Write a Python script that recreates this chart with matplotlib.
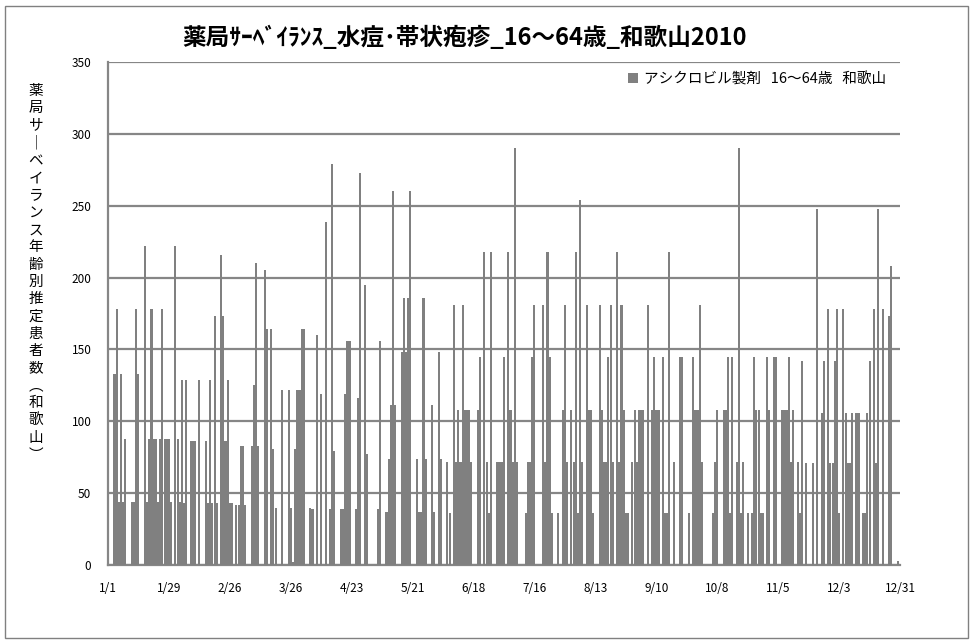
import matplotlib
matplotlib.use("Agg")
import matplotlib.pyplot as plt
import numpy as np
from matplotlib.patches import Rectangle

plt.rcParams['font.family'] = ['Noto Sans CJK JP', 'DejaVu Sans']

# daily estimated patients, 1/1 .. 12/31 (365 days)
jan_feb = [0, 0, 0, 133, 178, 44, 133, 44, 88, 0,
           0, 44, 44, 178, 133, 0, 0, 222, 44, 88,
           178, 88, 88, 44, 88, 178, 88, 88, 88, 44,
           0, 222, 88, 44, 129, 43, 129, 0, 86, 86,
           86, 0, 129, 0, 0, 86, 43, 129, 43, 173,
           43, 0, 216, 173, 86, 129, 43, 43, 0]
mar_apr = [42, 42, 83, 83, 42, 0, 0, 83, 125, 210,
           83, 0, 0, 205, 164, 0, 164, 81, 40, 0,
           0, 122, 0, 0, 122, 40, 2, 81, 122, 122,
           164, 164, 0, 0, 40, 39, 0, 160, 0, 119,
           0, 239, 0, 39, 279, 79, 0, 0, 39, 39,
           119, 156, 156, 0, 0, 39, 116, 273, 0, 195]
may_jun = [77, 0, 0, 0, 0, 39, 156, 0, 0, 37,
           74, 111, 260, 111, 0, 0, 148, 186, 148, 186,
           260, 0, 0, 74, 37, 37, 186, 74, 0, 0,
           111, 37, 0, 148, 74, 0, 0, 72, 36, 0,
           181, 72, 108, 72, 181, 108, 108, 108, 72, 0,
           0, 108, 145, 0, 218, 72, 36, 218, 0, 0, 72]
jul_aug = [72, 72, 145, 0, 218, 108, 72, 290, 72, 0,
           0, 0, 36, 72, 72, 145, 181, 0, 0, 0,
           181, 72, 218, 145, 36, 0, 0, 36, 0, 108,
           181, 72, 0, 108, 72, 218, 36, 254, 72, 0,
           181, 108, 108, 36, 0, 0, 181, 108, 72, 72,
           145, 181, 72, 0, 218, 72, 181, 108, 36, 36, 0, 72]
sep_oct = [108, 72, 108, 108, 108, 0, 181, 0, 108, 145,
           108, 108, 0, 145, 36, 36, 218, 0, 72, 0,
           0, 145, 145, 0, 0, 36, 0, 145, 108, 108,
           181, 72, 0, 0, 0, 0, 36, 72, 108, 0,
           0, 108, 108, 145, 36, 145, 0, 72, 290, 36,
           72, 0, 36, 0, 36, 145, 108, 108, 36, 36, 0]
nov_dec = [145, 108, 0, 145, 145, 0, 0, 108, 108, 108,
           145, 72, 108, 0, 72, 36, 142, 0, 71, 0,
           0, 71, 0, 248, 0, 106, 142, 0, 178, 71,
           71, 142, 178, 36, 0, 178, 106, 71, 71, 106,
           0, 106, 106, 0, 36, 36, 106, 142, 0, 178,
           71, 248, 0, 178, 0, 0, 173, 208, 0, 0, 3, 0]

values = jan_feb + mar_apr + may_jun + jul_aug + sep_oct + nov_dec
values = (values + [0] * 365)[:365]

tick_days = list(range(0, 365, 28))
tick_labels = ['1/1', '1/29', '2/26', '3/26', '4/23', '5/21', '6/18',
               '7/16', '8/13', '9/10', '10/8', '11/5', '12/3', '12/31']

title = '薬局ｻｰﾍﾞｲﾗﾝｽ_水痘･帯状疱疹_16～64歳_和歌山2010'
ylabel = '薬局サ｜ベイランス年齢別推定患者数︵和歌山︶'
legend_label = 'アシクロビル製剤   16～64歳   和歌山'

grid_col = '#868686'
bar_col = '#808080'

fig = plt.figure(figsize=(9.76, 6.43), dpi=100)
ax = fig.add_axes([108 / 976, 1 - 565 / 643, 792 / 976, 503 / 643])

days = np.arange(len(values))
ax.bar(days, values, width=0.95, color=bar_col, linewidth=0,
       label=legend_label, zorder=3)

ax.set_xlim(0, 364)
ax.set_ylim(0, 350)
ax.set_yticks(range(0, 351, 50))
ax.set_xticks(tick_days)
ax.set_xticklabels(tick_labels)
ax.tick_params(axis='both', labelsize=8.5, length=0, colors='black')
ax.tick_params(axis='x', pad=12)
ax.tick_params(axis='y', pad=12)

ax.grid(axis='y', color=grid_col, linewidth=1.6, zorder=0)
for s in ['top', 'right']:
    ax.spines[s].set_visible(False)
ax.spines['left'].set_color(grid_col)
ax.spines['left'].set_linewidth(1.6)
ax.spines['bottom'].set_color(grid_col)
ax.spines['bottom'].set_linewidth(1.6)

ax.legend(loc='upper right', frameon=False, fontsize=10.5,
          handlelength=0.7, handleheight=0.7, handletextpad=0.4,
          bbox_to_anchor=(0.995, 1.0), borderaxespad=0.3)

fig.text(465 / 976, 1 - 38 / 643, title, ha='center', va='center',
         fontsize=17, fontweight='bold')

fig.text(36 / 976, 1 - 273 / 643, '\n'.join(ylabel), ha='center', va='center',
         fontsize=10.5, linespacing=1.3)

fig.patches.append(Rectangle((5 / 976, 5 / 643), 963 / 976, 632 / 643,
                             transform=fig.transFigure, fill=False,
                             edgecolor='#808080', linewidth=1.0))

fig.savefig('out.png', dpi=100)
